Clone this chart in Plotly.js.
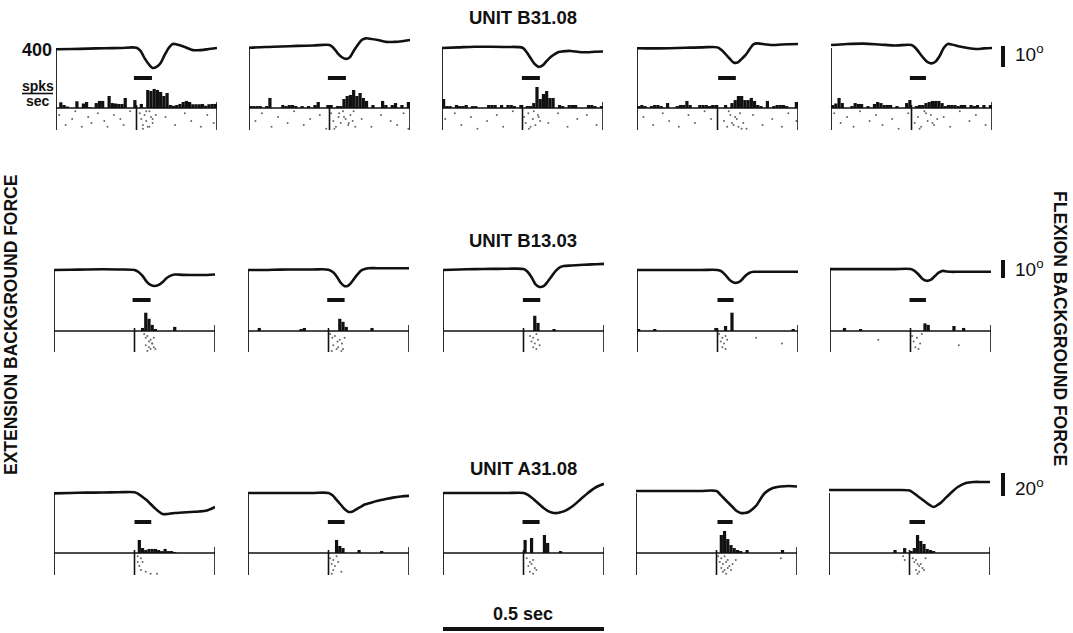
<!DOCTYPE html>
<html><head><meta charset="utf-8">
<script src="https://cdn.plot.ly/plotly-3.0.1.min.js"></script>
<style>html,body{margin:0;padding:0;background:#fff;} #chart{width:1073px;height:633px;}</style>
</head><body><div id="chart"></div>
<script>
// ================= DATA =================
const unitNames = ['UNIT B31.08', 'UNIT B13.03', 'UNIT A31.08'];
const scaleDeg = [10, 10, 20];          // angle scale bar per row (degrees)
const histMax = 400;                    // spks/sec at top of histogram axis
const scaleBarSec = 0.5;                // time scale bar
const timeRange = [-0.25, 0.25];        // s, window around stimulus onset
const binWidth = 0.01;                  // s, histogram bin width

// joint position sample times (s)
const posTime = [-0.25,-0.2,-0.15,-0.1,-0.05,0,0.0125,0.025,0.0375,0.05,0.0625,0.075,0.0875,0.1,0.1125,0.125,0.15,0.175,0.2,0.225,0.25];

// joint position (degrees, relative) per panel
const pos_r1c1 = [-0.6,-0.5,-0.3,-0.1,0,0.1,-1.4,-4.8,-7.6,-9.5,-9.0,-7.1,-3.3,0,1.9,1.7,0.5,-1,-1,-0.5,0];
const pos_r1c2 = [0.1,0.5,0.7,1,1.2,1.4,0,-2.4,-4.3,-5.2,-4.5,-1.4,1.4,3.8,4.6,4.4,3.8,2.9,2.9,3.2,3.8];
const pos_r1c3 = [0,0.3,0.6,0.6,0.5,0.1,-1.9,-4.8,-7.6,-9,-8.3,-6.2,-4.3,-2.9,-1.9,-1.6,-1.4,-1.9,-2,-1.8,-1.7];
const pos_r1c4 = [-0.1,-0.2,-0.1,0.1,0.3,0.3,-1,-2.9,-5,-6.9,-6.9,-5.2,-3.3,-0.5,1.9,2.2,1.7,1.4,1.7,1.8,1.9];
const pos_r1c5 = [1.4,1.9,2.1,1.7,1.2,1.4,0,-2.4,-4.8,-6.7,-7.3,-6.4,-3.8,0,1.9,1.7,0.7,0,-0.5,-0.2,0];
const pos_r2c1 = [0,0.1,0.3,0.4,0.3,0,-1.1,-3.3,-6.4,-8.3,-8.9,-8.3,-6.7,-4.4,-3.1,-2.5,-2.7,-2.8,-2.8,-2.8,-2.5];
const pos_r2c2 = [0,0,0.2,0.3,0.3,0.2,-1,-3.5,-7,-9,-8.5,-6,-3,-0.5,0.5,1,1,1,1,1,1];
const pos_r2c3 = [0,0.3,0.5,0.6,0.7,0.5,-1,-4,-8,-9.4,-9,-6.5,-3.5,-0.5,1.5,2.2,2.5,2.8,3,3.2,3.4];
const pos_r2c4 = [0,0,0,0,0,0,-0.8,-2.8,-5.5,-7,-7,-5.5,-3,-1.5,-1,-1,-1,-1,-1,-1,-1];
const pos_r2c5 = [0.5,0.5,0.5,0.5,0.5,0.5,-0.5,-2.5,-5,-6,-5.5,-3.5,-1.5,-0.5,-0.8,-1,-1,-1,-1,-1,-1];
const pos_r3c1 = [-0.3,0,0.3,0.4,0.6,0.6,-0.9,-3.5,-6.1,-9.6,-13,-16.1,-18.3,-18.3,-17.8,-17.4,-17,-16.5,-16.1,-15.2,-12.2];
const pos_r3c2 = [0,0,0,0,0,0,-2,-6,-10,-14,-16.5,-16,-14,-12,-10,-9,-7,-5.5,-4,-3,-2.5];
const pos_r3c3 = [0,0,0,0,0,0,-1.5,-4,-7,-10,-13,-15.5,-17,-17.5,-17,-16,-12,-6,0,5,8];
const pos_r3c4 = [1.7,1.7,1.7,1.7,1.7,1.7,-1.7,-5.2,-8.7,-12.2,-15.7,-17.4,-17.4,-16.5,-13.9,-10.4,0,4.3,5.7,6.1,5.7];
const pos_r3c5 = [2.6,2.6,2.6,2.6,2.6,2.2,0,-2.6,-5.2,-7.8,-10.4,-12.2,-10.4,-7.8,-4.3,-0.9,5.2,8.7,9.6,9.6,9.6];

// peri-stimulus histograms (spks/sec), 50 bins of 10 ms from -0.25 s
const hist_r1c1 = [0,38,20,10,0,0,45,0,30,40, 5,0,33,47,47,0,80,33,30,27, 27,67,0,0,53,0,27,0,120,113, 127,120,107,80,100,20,15,20,27,40, 47,40,25,25,25,27,15,25,27,27];
const hist_r1c2 = [13,13,13,13,0,13,67,0,0,0, 20,13,20,20,13,0,13,0,13,0, 20,40,0,0,20,20,0,13,13,60, 80,87,120,80,100,67,47,0,20,0, 0,47,20,0,20,33,0,20,0,40];
const hist_r1c3 = [60,13,13,0,20,13,13,20,0,13, 13,0,0,0,20,20,20,0,20,0, 20,20,13,0,20,0,13,13,33,140, 60,93,113,67,67,0,20,13,0,20, 20,20,0,0,0,20,20,13,0,13];
const hist_r1c4 = [13,20,13,0,13,20,20,13,0,33, 0,0,13,20,20,47,20,0,0,20, 20,20,13,20,20,0,0,20,0,33, 53,80,80,53,53,67,47,20,13,0, 47,0,13,20,20,20,13,0,0,40];
const hist_r1c5 = [20,30,67,33,0,0,13,33,27,27, 0,13,0,27,40,33,20,20,20,0, 13,0,0,33,53,0,13,20,20,33, 40,47,47,47,33,13,20,20,20,13, 20,20,0,20,13,20,0,20,0,20];
const hist_r2c1 = [0,0,0,0,0,0,0,0,0,0, 0,0,0,0,0,0,0,0,0,0, 0,0,0,0,0,0,0,20,120,80, 40,13,0,0,0,0,0,27,0,0, 0,0,0,0,0,0,0,0,0,0];
const hist_r2c2 = [0,0,0,20,0,0,0,0,0,0, 0,0,0,0,0,0,13,20,0,0, 0,0,0,0,0,0,0,0,80,60, 27,0,0,0,0,0,0,0,20,0, 0,0,0,0,0,0,0,0,0,0];
const hist_r2c3 = [0,0,0,0,0,0,0,0,0,0, 0,0,0,0,0,0,0,0,0,0, 0,0,0,0,0,0,0,0,100,53, 0,0,0,0,13,0,0,0,0,0, 0,0,0,0,0,0,0,0,0,0];
const hist_r2c4 = [13,0,0,0,0,13,0,0,0,0, 0,0,0,0,0,0,0,0,0,0, 0,0,0,0,20,0,0,33,0,120, 0,0,0,0,0,0,0,0,0,0, 0,0,0,0,0,0,0,0,13,0];
const hist_r2c5 = [0,0,0,0,20,0,0,0,0,13, 0,0,0,0,0,0,0,0,0,0, 0,0,0,0,0,0,0,0,0,50, 40,0,0,0,0,0,0,0,33,0, 0,20,0,0,0,0,0,0,0,0];
const hist_r3c1 = [0,0,0,0,0,0,0,0,0,0, 0,0,0,0,0,0,0,0,0,0, 0,0,0,0,0,0,87,33,20,27, 27,27,20,13,27,13,13,7,0,0, 0,0,0,0,0,0,0,0,0,0];
const hist_r3c2 = [0,0,0,0,0,0,0,0,0,0, 0,0,0,0,0,0,0,0,0,0, 0,0,0,0,0,0,0,87,47,33, 0,0,0,0,20,0,0,0,0,0, 0,13,0,0,0,0,0,0,0,0];
const hist_r3c3 = [0,0,0,0,0,0,0,0,0,0, 0,0,0,0,0,0,0,0,0,0, 0,0,0,0,0,87,0,100,0,0, 0,120,67,0,0,0,13,0,0,0, 0,0,0,0,0,0,0,0,0,0];
const hist_r3c4 = [0,0,0,0,0,0,0,0,0,0, 0,0,0,0,0,0,0,0,0,0, 0,0,0,0,0,0,120,147,93,53, 33,20,13,0,20,0,0,0,0,0, 0,0,0,0,0,20,0,0,0,0];
const hist_r3c5 = [0,0,0,0,0,0,0,0,0,0, 0,0,0,0,0,0,0,0,0,0, 20,0,0,33,0,13,33,120,80,60, 27,20,13,0,0,0,0,0,0,0, 0,0,0,0,0,0,0,0,0,0];

// raster dots: spike time (s) and trial number
const ras_r1c1_t = [-0.24,-0.22,-0.2,-0.19,-0.17,-0.15,-0.14,-0.12,-0.1,-0.09,-0.07,-0.05,-0.04,-0.02,0.01,0.015,0.02,0.025,0.03,0.035,0.04,0.045,0.05,0.06,0.02,0.03,0.04,0.05,0.09,0.12,0.15,0.17,0.2,0.22,0.24];
const ras_r1c1_n = [3,8,5,1,9,4,7,2,6,9,3,5,8,1,2,5,8,3,6,9,1,4,7,3,10,1,9,5,4,8,2,6,9,3,7];
const ras_r1c2_t = [-0.23,-0.21,-0.18,-0.16,-0.13,-0.11,-0.08,-0.06,-0.03,-0.01,0.005,0.012,0.02,0.028,0.035,0.042,0.05,0.058,0.065,0.072,0.08,0.015,0.03,0.045,0.06,0.075,0.1,0.13,0.16,0.19,0.21,0.23,0.245];
const ras_r1c2_n = [6,2,9,4,7,1,8,5,3,10,2,6,9,4,7,1,5,8,3,6,9,10,2,4,7,1,5,9,3,6,8,2,10];
const ras_r1c3_t = [-0.24,-0.21,-0.19,-0.16,-0.14,-0.11,-0.08,-0.06,-0.03,0.005,0.01,0.018,0.025,0.032,0.04,0.048,0.055,0.02,0.035,0.05,0.08,0.11,0.14,0.17,0.2,0.23];
const ras_r1c3_n = [5,2,8,4,10,6,3,9,1,4,7,2,9,5,8,3,6,10,1,4,7,2,9,5,3,8];
const ras_r1c4_t = [-0.23,-0.2,-0.17,-0.15,-0.12,-0.09,-0.07,-0.04,-0.02,0.02,0.03,0.04,0.05,0.06,0.07,0.08,0.09,0.035,0.055,0.075,0.045,0.065,0.11,0.14,0.17,0.2,0.22,0.245];
const ras_r1c4_n = [4,8,2,6,9,3,7,1,5,6,9,3,8,5,2,7,10,1,4,10,7,9,3,8,5,9,2,6];
const ras_r1c5_t = [-0.24,-0.22,-0.2,-0.18,-0.16,-0.13,-0.11,-0.09,-0.06,-0.04,-0.01,0.01,0.02,0.03,0.04,0.05,0.06,0.07,0.08,0.025,0.045,0.065,0.1,0.12,0.15,0.18,0.2,0.23];
const ras_r1c5_n = [2,7,4,9,1,6,3,8,5,10,2,7,4,9,1,6,3,8,5,10,2,7,4,9,1,6,3,8];
const ras_r2c1_t = [0.03,0.035,0.04,0.045,0.05,0.055,0.06,0.035,0.045,0.055,0.065,0.04,0.05,0.06];
const ras_r2c1_n = [1,3,2,5,4,6,3,7,8,6,9,10,9,8];
const ras_r2c2_t = [0.005,0.012,0.02,0.028,0.035,0.042,0.05,0.015,0.03,0.045,0.01,0.025,0.04];
const ras_r2c2_n = [1,3,2,5,4,6,3,7,8,9,10,9,10];
const ras_r2c3_t = [0.02,0.03,0.04,0.025,0.035,0.045,0.03,0.05,0.04];
const ras_r2c3_n = [2,3,1,5,6,4,8,7,9];
const ras_r2c4_t = [0.005,0.015,0.025,0.01,0.02,0.03,0.015,0.025,0.12,0.2];
const ras_r2c4_n = [1,3,2,5,6,4,8,9,3,6];
const ras_r2c5_t = [0.005,0.02,0.035,0.01,0.03,0.015,0.025,-0.1,0.15];
const ras_r2c5_n = [2,3,1,5,6,8,9,4,7];
const ras_r3c1_t = [0.01,0.02,0.01,0.025,0.015,0.02,0.05,0.07,0.035];
const ras_r3c1_n = [1,2,4,4,6,8,10,10,9];
const ras_r3c2_t = [0.005,0.015,0.025,0.01,0.02,0.03,0.015,0.04,0.01];
const ras_r3c2_n = [2,3,1,5,6,4,8,9,10];
const ras_r3c3_t = [0.01,0.02,0.03,0.015,0.025,0.035,0.02,0.04,0.03];
const ras_r3c3_n = [2,4,3,6,5,7,9,8,10];
const ras_r3c4_t = [0.005,0.015,0.025,0.035,0.01,0.02,0.03,0.04,0.05,0.015,0.025,0.035,0.045,0.02,0.03,0.06,0.2];
const ras_r3c4_n = [1,2,1,3,4,5,4,6,5,7,8,7,8,9,10,3,2];
const ras_r3c5_t = [-0.02,-0.015,0.01,0.015,0.02,0.025,0.03,0.035,0.04,0.02,0.03,0.045,0.05,0.025];
const ras_r3c5_n = [1,3,2,4,3,5,6,5,7,8,9,8,2,10];

// stimulus (perturbation) bar timing per panel (s)
const stimOn  = [-0.008,-0.005,-0.002,0.002,-0.005, -0.006,-0.004,-0.002,0,-0.003, 0,-0.002,-0.003,0.003,0];
const stimOff = [0.048,0.051,0.054,0.057,0.045, 0.05,0.05,0.052,0.05,0.048, 0.052,0.05,0.05,0.05,0.048];

const posData = [pos_r1c1,pos_r1c2,pos_r1c3,pos_r1c4,pos_r1c5,pos_r2c1,pos_r2c2,pos_r2c3,pos_r2c4,pos_r2c5,pos_r3c1,pos_r3c2,pos_r3c3,pos_r3c4,pos_r3c5];
const histData = [hist_r1c1,hist_r1c2,hist_r1c3,hist_r1c4,hist_r1c5,hist_r2c1,hist_r2c2,hist_r2c3,hist_r2c4,hist_r2c5,hist_r3c1,hist_r3c2,hist_r3c3,hist_r3c4,hist_r3c5];
const rasT = [ras_r1c1_t,ras_r1c2_t,ras_r1c3_t,ras_r1c4_t,ras_r1c5_t,ras_r2c1_t,ras_r2c2_t,ras_r2c3_t,ras_r2c4_t,ras_r2c5_t,ras_r3c1_t,ras_r3c2_t,ras_r3c3_t,ras_r3c4_t,ras_r3c5_t];
const rasN = [ras_r1c1_n,ras_r1c2_n,ras_r1c3_n,ras_r1c4_n,ras_r1c5_n,ras_r2c1_n,ras_r2c2_n,ras_r2c3_n,ras_r2c4_n,ras_r2c5_n,ras_r3c1_n,ras_r3c2_n,ras_r3c3_n,ras_r3c4_n,ras_r3c5_n];

// ================= LAYOUT GEOMETRY (pixels) =================
const W = 1073, H = 633;
const fx = p => p / W, fy = p => 1 - p / H;
const PW = 161;
const rows = [
  {yb:48,  top:48,  base:108, rasBot:130, k:2.1,  stimY:78,  lefts:[56,249,442,637,831], titleY:18,  scaleTopPx:46,  labelY:53},
  {yb:270, top:270, base:331, rasBot:352, k:1.8,  stimY:300, lefts:[54,248,443,637,830], titleY:241, scaleTopPx:260, labelY:268},
  {yb:493, top:493, base:553, rasBot:575, k:1.15, stimY:522, lefts:[54,248,443,636,829], titleY:468, scaleTopPx:473, labelY:487}
];
const INK = '#111';
const F = 'Liberation Sans, Arial, sans-serif';
const layout = {
  width: W, height: H, margin: {l:0, r:0, t:0, b:0},
  paper_bgcolor: '#fff', plot_bgcolor: 'rgba(0,0,0,0)',
  showlegend: false, shapes: [], annotations: []
};
const ax = n => (n === 1 ? '' : String(n));
const traces = [];
const binCenters = histData[0].map((_, i) => timeRange[0] + binWidth * (i + 0.5));

rows.forEach((R, r) => {
  const yPos = 3*r + 1, yHist = 3*r + 2, yRas = 3*r + 3;
  layout['yaxis' + ax(yPos)] = {domain:[fy(R.yb + 36), fy(R.yb - 30)], range:[-36 / R.k, 30 / R.k], visible:false, fixedrange:true};
  layout['yaxis' + ax(yHist)] = {domain:[fy(R.base), fy(R.top)], range:[0, histMax], visible:false, fixedrange:true};
  layout['yaxis' + ax(yRas)] = {domain:[fy(R.rasBot), fy(R.base + 2)], range:[10.6, 0.4], visible:false, fixedrange:true};
  R.lefts.forEach((L, c) => {
    const p = 5*r + c, xn = p + 1, xa = 'x' + ax(xn);
    layout['xaxis' + ax(xn)] = {domain:[fx(L), fx(L + PW)], range: timeRange.slice(), visible:false, fixedrange:true, anchor:'y' + ax(yHist)};
    traces.push({type:'bar', x: binCenters, y: histData[p], width: binWidth, xaxis: xa, yaxis: 'y' + ax(yHist),
      marker:{color:INK, line:{width:0}}, hoverinfo:'skip'});
    traces.push({type:'scatter', mode:'markers', x: rasT[p], y: rasN[p], xaxis: xa, yaxis: 'y' + ax(yRas),
      marker:{size:2, color:'#666'}, hoverinfo:'skip'});
    traces.push({type:'scatter', mode:'lines', x: posTime, y: posData[p], xaxis: xa, yaxis: 'y' + ax(yPos),
      line:{color:INK, width:2.6, shape:'spline', smoothing:0.9}, hoverinfo:'skip'});
    const ln = (x0,x1,y0,y1,w) => layout.shapes.push({type:'line', xref:xa, yref:'paper', x0, x1, y0:fy(y0), y1:fy(y1), line:{color:INK, width:w}});
    ln(timeRange[0], timeRange[0], R.top, R.rasBot, 1.8);       // left axis
    ln(timeRange[0], timeRange[1], R.base, R.base, 1.6);        // histogram baseline
    ln(0, 0, R.base - 3, R.rasBot, 1.6);                        // onset tick
    ln(timeRange[1], timeRange[1], R.base - 6, R.rasBot, 1.6);  // end tick
    ln(stimOn[p], stimOff[p], R.stimY, R.stimY, 4);             // stimulus bar
  });
  // angle scale bar
  const topDeg = (R.yb - R.scaleTopPx) / R.k;
  layout.shapes.push({type:'line', xref:'paper', yref:'y' + ax(yPos), x0:fx(1003), x1:fx(1003), y0: topDeg, y1: topDeg - scaleDeg[r], line:{color:INK, width:4}});
  layout.annotations.push({xref:'paper', yref:'paper', x:fx(1013), y:fy(R.labelY), xanchor:'left', yanchor:'middle', showarrow:false,
    text: scaleDeg[r] + '<sup>o</sup>', font:{family:F, size:19, color:INK}});
  layout.annotations.push({xref:'paper', yref:'paper', x:fx(523), y:fy(R.titleY), xanchor:'center', yanchor:'middle', showarrow:false,
    text: unitNames[r], font:{family:F, size:18.5, weight:'bold', color:INK}});
});

// labels
layout.annotations.push({xref:'paper', yref:'paper', x:fx(54), y:fy(50), xanchor:'right', yanchor:'middle', showarrow:false,
  text: String(histMax), font:{family:F, size:18, weight:'bold', color:INK}});
layout.annotations.push({xref:'paper', yref:'paper', x:fx(38), y:fy(85.5), xanchor:'center', yanchor:'middle', showarrow:false,
  text:'spks', font:{family:F, size:14, weight:'bold', color:INK}});
layout.annotations.push({xref:'paper', yref:'paper', x:fx(38), y:fy(101), xanchor:'center', yanchor:'middle', showarrow:false,
  text:'sec', font:{family:F, size:14, weight:'bold', color:INK}});
layout.shapes.push({type:'line', xref:'paper', yref:'paper', x0:fx(22), x1:fx(53), y0:fy(93.5), y1:fy(93.5), line:{color:INK, width:1.6}});
layout.annotations.push({xref:'paper', yref:'paper', x:fx(11), y:fy(325), xanchor:'center', yanchor:'middle', showarrow:false, textangle:-90,
  text:'EXTENSION BACKGROUND FORCE', font:{family:F, size:17.5, weight:'bold', color:INK}});
layout.annotations.push({xref:'paper', yref:'paper', x:fx(1060), y:fy(328), xanchor:'center', yanchor:'middle', showarrow:false, textangle:90,
  text:'FLEXION BACKGROUND FORCE', font:{family:F, size:17.5, weight:'bold', color:INK}});
// time scale bar drawn on the row-3 middle panel's time axis
layout.shapes.push({type:'line', xref:'x13', yref:'paper', x0:timeRange[0], x1:timeRange[0] + scaleBarSec, y0:fy(629), y1:fy(629), line:{color:INK, width:4}});
layout.annotations.push({xref:'paper', yref:'paper', x:fx(523), y:fy(614), xanchor:'center', yanchor:'middle', showarrow:false,
  text: scaleBarSec + ' sec', font:{family:'Liberation Sans Narrow, Liberation Sans, Arial, sans-serif', size:18, weight:'bold', color:INK}});

Plotly.newPlot('chart', traces, layout, {staticPlot:true, displayModeBar:false});
</script></body></html>
